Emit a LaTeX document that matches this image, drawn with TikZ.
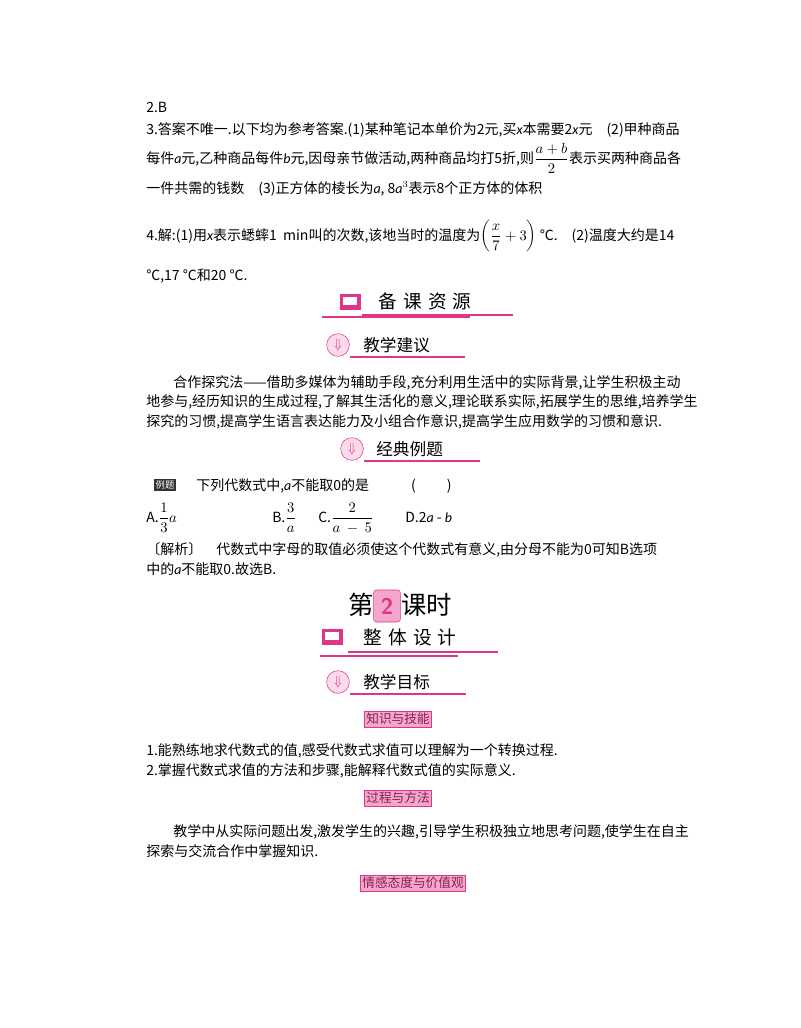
\documentclass[tikz,border=0pt]{standalone}
\usepackage{fontspec}
\setmainfont{Carlito}
\newfontfamily\cjk{Noto Sans CJK SC}
\newfontfamily\cjkb{Noto Sans CJK SC}[BoldFont={* Bold}]
\newcommand{\iv}[1]{{\rmfamily\itshape #1}}
\definecolor{pk}{HTML}{E0368A}
\definecolor{pkl}{HTML}{F4A6CC}
\begin{document}
\begin{tikzpicture}[x=0.75pt,y=-0.75pt,
  tx/.style={anchor=base west,inner sep=0pt,font=\fontsize{10.5pt}{12pt}\cjk},
  tag/.style={draw=pk,fill=pkl,inner sep=1.5pt,font=\fontsize{9.5pt}{10pt}\cjk,text=pk!60!black},
  uline/.style={pk,line width=0.8pt}]
\useasboundingbox (0,0) rectangle (800,1028);
\node[tx] (l1) at (146,112) {2.B};
\node[tx] (l3) at (146,134) {3.答案不唯一.以下均为参考答案.(1)某种笔记本单价为2元,买\iv{x}本需要2\iv{x}元\quad (2)甲种商品};
\node[tx] (l4) at (146,163) {每件\iv{a}元,乙种商品每件\iv{b}元,因母亲节做活动,两种商品均打5折,则$\displaystyle\frac{a+b}{2}$表示买两种商品各};
\node[tx] (l5) at (146,193) {一件共需的钱数\quad (3)正方体的棱长为\iv{a}, 8\iv{a}$^3$表示8个正方体的体积};
\node[tx] (l6) at (146,240) {4.解:(1)用\iv{x}表示蟋蟀1\ \ min叫的次数,该地当时的温度为$\displaystyle\left(\frac{x}{7}+3\right)$\ ℃.\quad (2)温度大约是14};
\node[tx] (l7) at (146,280) {℃,17\ ℃和20\ ℃.};
% heading 1
\node[draw=pk,fill=pk,minimum width=15,minimum height=11,inner sep=0] (ic1) at (350,302) {};
\node[fill=white,minimum width=10,minimum height=6,inner sep=0] at (350,301) {};
\node[tx,font=\fontsize{14pt}{16pt}\cjkb] (h1) at (378,308) {备\,\,课\,\,资\,\,源};
\draw[uline] (322,317) -- (470,317);
\draw[uline] (362,315) -- (513,315);
\node[circle,draw=pk,fill=pkl!40,minimum size=17,inner sep=0] (ic2) at (338,345) {\color{pk}$\Downarrow$};
\node[tx,font=\fontsize{12.5pt}{14pt}\cjk] (h2) at (363,351) {教学建议};
\draw[uline] (350,357) -- (465,357);
\node[tx] (p1) at (173,387) {合作探究法——借助多媒体为辅助手段,充分利用生活中的实际背景,让学生积极主动};
\node[tx] (p2) at (146,406) {地参与,经历知识的生成过程,了解其生活化的意义,理论联系实际,拓展学生的思维,培养学生};
\node[tx] (p3) at (146,426) {探究的习惯,提高学生语言表达能力及小组合作意识,提高学生应用数学的习惯和意识.};
\node[circle,draw=pk,fill=pkl!40,minimum size=17,inner sep=0] (ic3) at (352,449) {\color{pk}$\Downarrow$};
\node[tx,font=\fontsize{12.5pt}{14pt}\cjk] (h3) at (376,455) {经典例题};
\draw[uline] (364,461) -- (480,461);
\node[fill=black!80,text=white,font=\fontsize{7pt}{8pt}\cjk,inner sep=1.5pt] (ex) at (165,485) {例题};
\node[tx] (q) at (196,490) {下列代数式中,\iv{a}不能取0的是\qquad\quad (\qquad\ )};
\node[tx] (oa) at (146,522) {A.$\displaystyle\frac{1}{3}a$};
\node[tx] (ob) at (272,522) {B.$\displaystyle\frac{3}{a}$};
\node[tx] (oc) at (318,522) {C.$\displaystyle\frac{2}{a\ -\ 5}$};
\node[tx] (od) at (405,522) {D.2\iv{a}\ -\ \iv{b}};
\node[tx] (s1) at (146,554) {〔解析〕\quad 代数式中字母的取值必须使这个代数式有意义,由分母不能为0可知B选项};
\node[tx] (s2) at (146,574) {中的\iv{a}不能取0.故选B.};
% lesson 2
\node[tx,font=\fontsize{19pt}{20pt}\cjk] (k1) at (348,614) {第};
\node[draw=pk,fill=pkl,rounded corners=2pt,inner sep=1pt,minimum width=20,minimum height=24,font=\fontsize{17pt}{18pt}\sffamily\bfseries,text=pk] (k2) at (387,606) {2};
\node[tx,font=\fontsize{19pt}{20pt}\cjk] (k3) at (401,614) {课时};
\node[draw=pk,fill=pk,minimum width=15,minimum height=11,inner sep=0] (ic4) at (332,637) {};
\node[fill=white,minimum width=10,minimum height=6,inner sep=0] at (332,636) {};
\node[tx,font=\fontsize{14pt}{16pt}\cjkb] (h4) at (363,644) {整\,\,体\,\,设\,\,计};
\draw[uline] (320,656) -- (458,656);
\draw[uline] (348,652) -- (498,652);
\node[circle,draw=pk,fill=pkl!40,minimum size=17,inner sep=0] (ic5) at (338,682) {\color{pk}$\Downarrow$};
\node[tx,font=\fontsize{12.5pt}{14pt}\cjk] (h5) at (363,688) {教学目标};
\draw[uline] (350,694) -- (466,694);
\node[tag] (t1) at (398,719) {知识与技能};
\node[tx] (g1) at (146,755) {1.能熟练地求代数式的值,感受代数式求值可以理解为一个转换过程.};
\node[tx] (g2) at (146,775) {2.掌握代数式求值的方法和步骤,能解释代数式值的实际意义.};
\node[tag] (t2) at (398,798) {过程与方法};
\node[tx] (m1) at (173,836) {教学中从实际问题出发,激发学生的兴趣,引导学生积极独立地思考问题,使学生在自主};
\node[tx] (m2) at (146,856) {探索与交流合作中掌握知识.};
\node[tag] (t3) at (413,883) {情感态度与价值观};
\end{tikzpicture}
\end{document}
